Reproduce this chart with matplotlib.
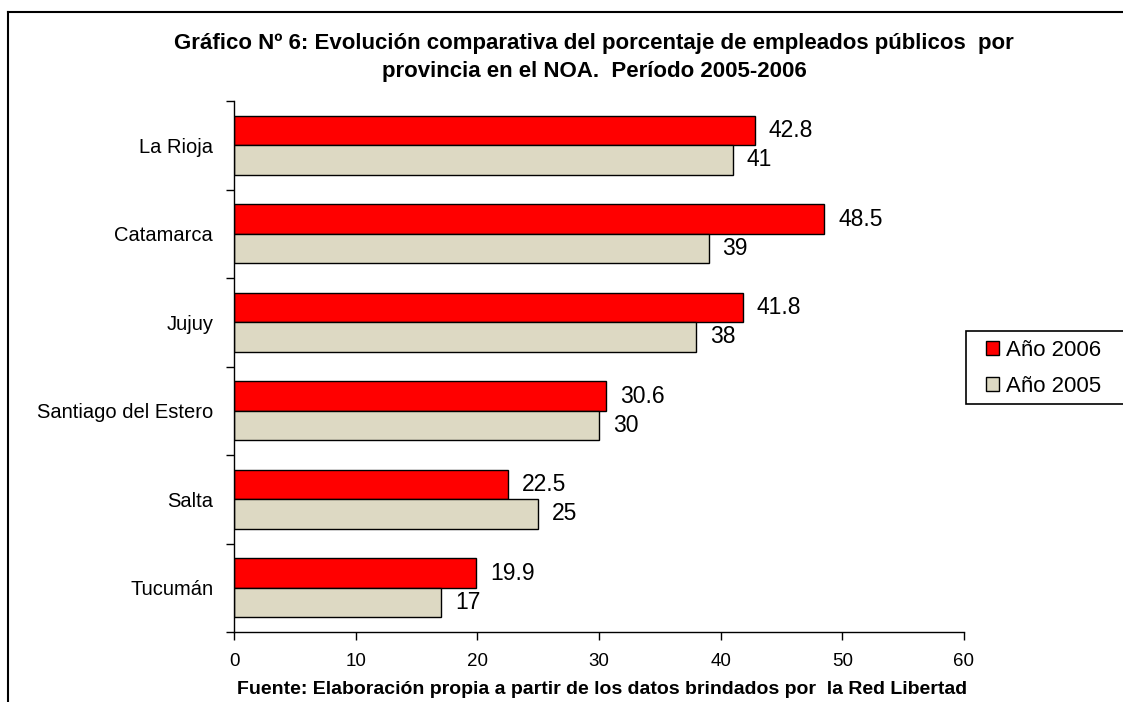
import numpy as np
import matplotlib
matplotlib.use('Agg')
import matplotlib.pyplot as plt
from matplotlib.lines import Line2D
from matplotlib.patches import Rectangle

plt.rcParams['font.family'] = ['Liberation Sans', 'DejaVu Sans']

provincias = ['Tucumán', 'Salta', 'Santiago del Estero', 'Jujuy', 'Catamarca', 'La Rioja']
anio_2006 = [19.9, 22.5, 30.6, 41.8, 48.5, 42.8]
anio_2005 = [17, 25, 30, 38, 39, 41]
etiquetas_x = [0, 10, 20, 30, 40, 50, 60]

rojo = '#ff0000'
beige = '#ddd9c3'

W, H = 1123, 702
fig = plt.figure(figsize=(W / 100, H / 100), dpi=100)
ax = fig.add_axes([234 / W, 1 - 632 / H, 730 / W, 531 / H])

y = np.arange(len(provincias))
h = 0.333
ax.barh(y + h/2, anio_2006, h, color=rojo, edgecolor='black', linewidth=1, label='Año 2006')
ax.barh(y - h/2, anio_2005, h, color=beige, edgecolor='black', linewidth=1, label='Año 2005')

for i in range(len(provincias)):
    ax.annotate('%g' % anio_2006[i], (anio_2006[i], y[i] + h/2), xytext=(14, 0),
                textcoords='offset pixels', va='center', ha='left', fontsize=16.5)
    ax.annotate('%g' % anio_2005[i], (anio_2005[i], y[i] - h/2), xytext=(14, 0),
                textcoords='offset pixels', va='center', ha='left', fontsize=16.5)

ax.set_xlim(0, 60)
ax.set_ylim(-0.5, len(provincias) - 0.5)
ax.set_xticks(etiquetas_x)
ax.set_xticklabels([str(v) for v in etiquetas_x], fontsize=13.5)
ax.set_yticks(np.arange(-0.5, len(provincias), 1.0))
ax.set_yticklabels([])
ax.set_yticks(y, minor=True)
ax.set_yticklabels(provincias, minor=True, fontsize=14.5)
ax.tick_params(axis='y', which='minor', length=0, pad=15)
ax.tick_params(axis='y', which='major', length=6, width=1, direction='out')
ax.tick_params(axis='x', length=6, width=1, direction='out', pad=9)
ax.spines['top'].set_visible(False)
ax.spines['right'].set_visible(False)
ax.spines['left'].set_linewidth(1)
ax.spines['bottom'].set_linewidth(1)

# caja de la leyenda, cortada en el borde derecho
fig.add_artist(Rectangle((966 / W, 1 - 404 / H), 170 / W, 73 / H, transform=fig.transFigure,
                         facecolor='white', edgecolor='black', linewidth=1.2, zorder=3))
handles, labels = ax.get_legend_handles_labels()
leg = fig.legend(handles, labels, loc='upper left', bbox_to_anchor=(986 / W, 1 - 340 / H),
                 frameon=False, fontsize=16, handlelength=0.6, handleheight=0.6,
                 handletextpad=0.3, borderpad=0, labelspacing=0.68, borderaxespad=0)
leg.set_zorder(5)

fig.text(0.529, 1 - 43/702, 'Gráfico Nº 6: Evolución comparativa del porcentaje de empleados públicos  por',
         ha='center', va='center', fontsize=16, fontweight='bold')
fig.text(0.529, 1 - 72/702, 'provincia en el NOA.  Período 2005-2006',
         ha='center', va='center', fontsize=16, fontweight='bold')
fig.text(0.536, 1 - 690/702, 'Fuente: Elaboración propia a partir de los datos brindados por  la Red Libertad',
         ha='center', va='center', fontsize=14, fontweight='bold')

# marco del gráfico (solo arriba e izquierda)
fig.add_artist(Line2D([8 / W, 1], [1 - 12 / H, 1 - 12 / H], color='black', linewidth=1.5,
                      transform=fig.transFigure))
fig.add_artist(Line2D([8 / W, 8 / W], [0, 1 - 12 / H], color='black', linewidth=1.5,
                      transform=fig.transFigure))

fig.savefig('out.png', dpi=100)
